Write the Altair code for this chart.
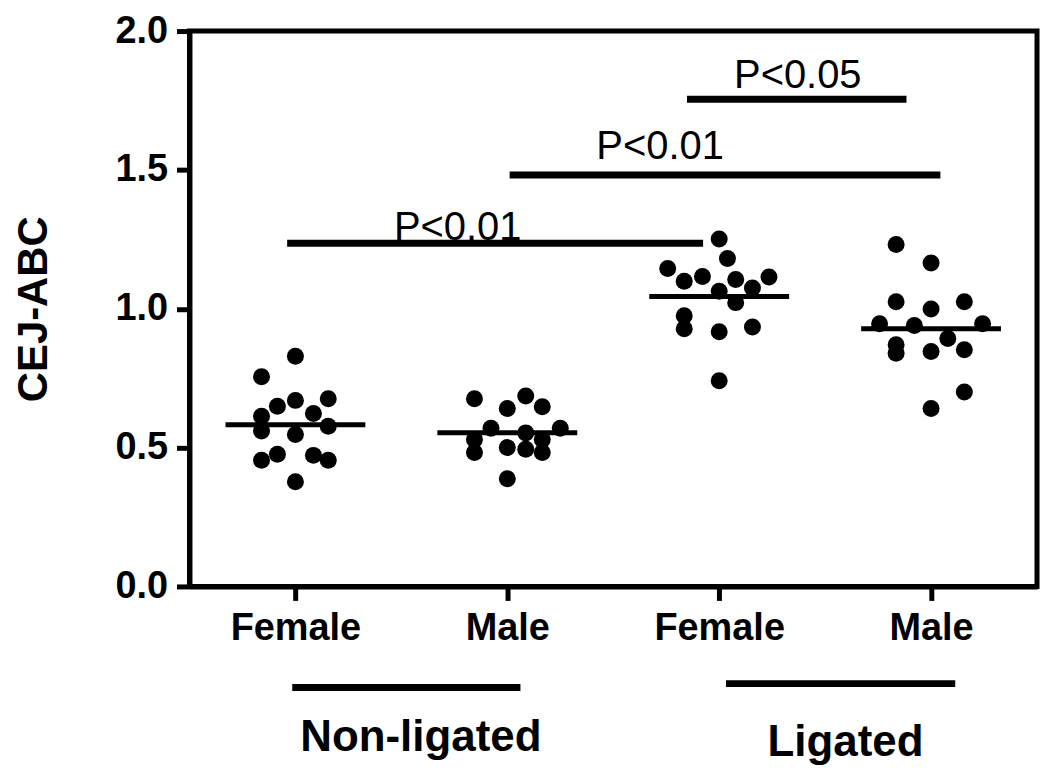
import json
import altair as alt
import pandas as pd

# ---------------- data ----------------
GROUP_LABELS = ["Female", "Male", "Female", "Male"]
CONDITIONS = ["Non-ligated", "Ligated"]

# Non-ligated Female
G1_VALUES = [0.829, 0.755, 0.649, 0.670, 0.676, 0.623, 0.613, 0.560, 0.547, 0.577,
             0.454, 0.476, 0.472, 0.454, 0.377]
G1_OFFSETS = [0.0, -0.16, -0.085, 0.0, 0.155, 0.085, -0.16, -0.16, 0.0, 0.155,
              -0.16, -0.085, 0.085, 0.155, 0.0]
# Non-ligated Male
G2_VALUES = [0.676, 0.641, 0.686, 0.647, 0.570, 0.570, 0.529, 0.482, 0.500, 0.553,
             0.494, 0.529, 0.482, 0.388]
G2_OFFSETS = [-0.155, 0.0, 0.087, 0.165, -0.077, 0.25, -0.155, -0.155, 0.0, 0.087,
              0.087, 0.165, 0.165, 0.0]
# Ligated Female
G3_VALUES = [1.251, 1.181, 1.145, 1.099, 1.116, 1.105, 1.063, 1.022, 0.975, 0.928,
             0.917, 1.114, 1.075, 0.934, 0.741]
G3_OFFSETS = [0.0, 0.039, -0.243, -0.165, -0.079, 0.078, 0.0, 0.078, -0.165, -0.165,
              0.0, 0.235, 0.157, 0.157, 0.0]
# Ligated Male
G4_VALUES = [1.231, 1.165, 1.025, 0.999, 1.025, 0.946, 0.940, 0.946, 0.893, 0.870,
             0.840, 0.846, 0.852, 0.700, 0.641]
G4_OFFSETS = [-0.165, 0.0, -0.165, 0.0, 0.157, -0.243, -0.079, 0.243, 0.079, -0.165,
              -0.165, 0.0, 0.157, 0.157, 0.0]

# significance brackets
SIG_LABELS = ["P<0.01", "P<0.01", "P<0.05"]
SIG_X1 = [0.961, 2.011, 2.848]
SIG_X2 = [2.924, 4.044, 3.884]
SIG_Y = [1.236, 1.482, 1.754]
SIG_TEXT_X = [1.766, 2.721, 3.371]
SIG_TEXT_Y = [1.246, 1.539, 1.796]

# condition group bars below the axis
COND_X1 = [0.985, 3.032]
COND_X2 = [2.062, 4.114]
COND_BAR_Y = [-0.364, -0.350]
COND_TEXT_X = [1.592, 3.596]
COND_TEXT_Y = [-0.594, -0.612]

MEAN_HALF_WIDTH = 0.33

# ---------------- tables ----------------
rows = []
for gi, (vals, offs) in enumerate(
    [(G1_VALUES, G1_OFFSETS), (G2_VALUES, G2_OFFSETS),
     (G3_VALUES, G3_OFFSETS), (G4_VALUES, G4_OFFSETS)], start=1):
    for v, o in zip(vals, offs):
        rows.append({"g": gi, "x": gi + o, "y": v})
points_df = pd.DataFrame(rows)

sig_df = pd.DataFrame({"label": SIG_LABELS, "x": SIG_X1, "x2": SIG_X2, "y": SIG_Y,
                       "tx": SIG_TEXT_X, "ty": SIG_TEXT_Y})
cond_df = pd.DataFrame({"label": CONDITIONS, "x": COND_X1, "x2": COND_X2, "y": COND_BAR_Y,
                        "tx": COND_TEXT_X, "ty": COND_TEXT_Y})

label_expr = json.dumps(GROUP_LABELS) + "[datum.value - 1]"

x_scale = alt.Scale(domain=[0.5, 4.5], nice=False, zero=False)
y_scale = alt.Scale(domain=[0, 2], nice=False, zero=False)

x_axis = alt.Axis(values=[1, 2, 3, 4], labelExpr=label_expr, title=None, grid=False,
                  tickSize=14, labelPadding=9)
y_axis = alt.Axis(values=[0, 0.5, 1.0, 1.5, 2.0], format=".1f", title="CEJ-ABC",
                  grid=False, tickSize=13, labelPadding=9, titlePadding=60,
                  titleFontSize=42, titleFont="Liberation Sans", titleFontWeight="bold",
                  titleColor="black")

X = lambda f="x": alt.X(f"{f}:Q", scale=x_scale, axis=x_axis)
Y = lambda f="y": alt.Y(f"{f}:Q", scale=y_scale, axis=y_axis)

pts = alt.Chart(points_df).mark_circle(size=290, color="black", opacity=1).encode(
    x=X(), y=Y()
)

means = alt.Chart(points_df).transform_aggregate(
    y="mean(y)", groupby=["g"]
).transform_calculate(
    x=f"datum.g - {MEAN_HALF_WIDTH}", x2=f"datum.g + {MEAN_HALF_WIDTH}"
).mark_rule(color="black", strokeWidth=5).encode(
    x=X(), x2="x2:Q", y=Y()
)

sig_rules = alt.Chart(sig_df).mark_rule(color="black", strokeWidth=7).encode(
    x=X(), x2="x2:Q", y=Y()
)
sig_text = alt.Chart(sig_df).mark_text(
    font="Liberation Sans", fontSize=40, color="black", align="center", baseline="alphabetic"
).encode(x=X("tx"), y=Y("ty"), text="label:N")

cond_rules = alt.Chart(cond_df).mark_rule(color="black", strokeWidth=7).encode(
    x=X(), x2="x2:Q", y=Y()
)
cond_text = alt.Chart(cond_df).mark_text(
    font="Liberation Sans", fontSize=44, fontWeight="bold", color="black",
    align="center", baseline="alphabetic"
).encode(x=X("tx"), y=Y("ty"), text="label:N")

chart = alt.layer(means, pts, sig_rules, sig_text, cond_rules, cond_text).properties(
    width=850, height=557,
    autosize=alt.AutoSizeParams(type="none"),
    padding={"left": 182, "top": 22, "right": 5, "bottom": 190},
).configure_view(
    stroke="black", strokeWidth=5
).configure_axis(
    domainColor="black", domainWidth=5, tickColor="black", tickWidth=5,
    labelFont="Liberation Sans", labelFontWeight="bold", labelFontSize=38,
    labelColor="black"
)

chart.save("out.html", embed_options={"renderer": "svg", "actions": False})
